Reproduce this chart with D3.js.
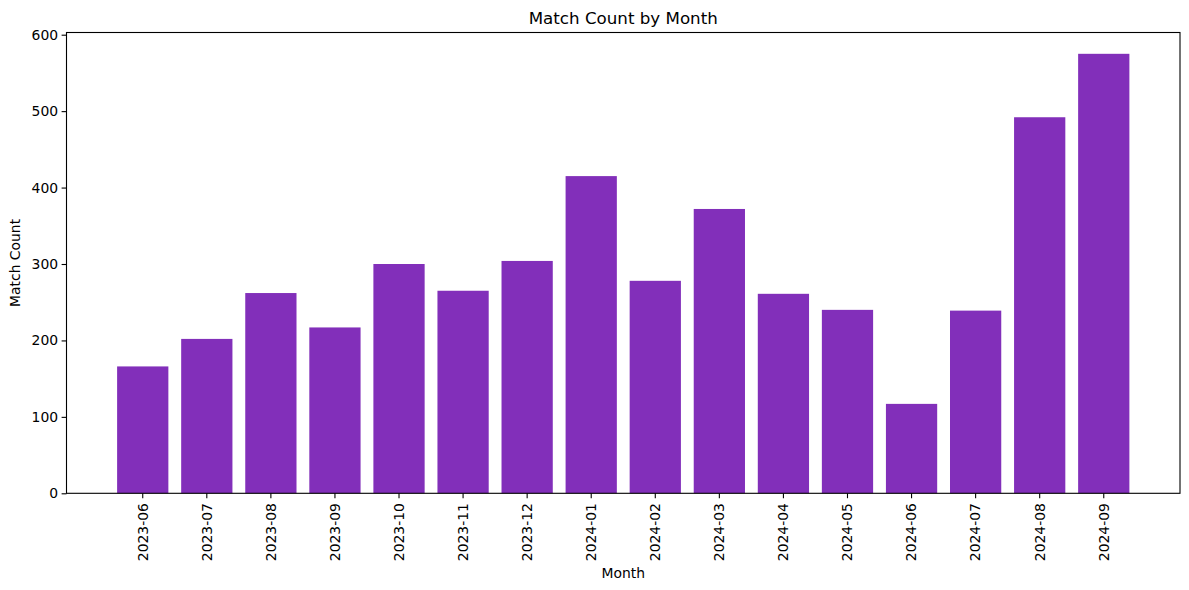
<!DOCTYPE html>
<html>
<head>
<meta charset="utf-8">
<script src="https://cdn.jsdelivr.net/npm/d3@7"></script>
<style>
  html, body { margin: 0; padding: 0; background: #fff; }
  text { font-family: "DejaVu Sans", sans-serif; fill: #000; }
</style>
</head>
<body>
<svg id="chart" width="1189" height="590"></svg>
<script>
const months = ["2023-06","2023-07","2023-08","2023-09","2023-10","2023-11","2023-12","2024-01","2024-02","2024-03","2024-04","2024-05","2024-06","2024-07","2024-08","2024-09"];
const matchCounts = [166, 202, 262, 217, 300, 265, 304, 415, 278, 372, 261, 240, 117, 239, 492, 575];
const yTicks = [0, 100, 200, 300, 400, 500, 600];

(function () {
const svg = d3.select("#chart");
const W = 1189, H = 590;
const fs = 13.9;
const pTop = 32.5, pBottom = 493.3, pLeft = 66.5, pRight = 1180;

const x = d3.scaleBand()
  .domain(months)
  .range([pLeft, pRight])
  .paddingInner(0.2)
  .paddingOuter(0.79);

const y = d3.scaleLinear().domain([0, 600]).range([pBottom, 34.7]);

// bars
svg.append("g").selectAll("rect")
  .data(months)
  .join("rect")
  .attr("x", d => x(d))
  .attr("width", x.bandwidth())
  .attr("y", (d, i) => y(matchCounts[i]))
  .attr("height", (d, i) => y(0) - y(matchCounts[i]))
  .attr("fill", "#822fba");

// frame
svg.append("rect")
  .attr("x", pLeft).attr("y", pTop)
  .attr("width", pRight - pLeft).attr("height", pBottom - pTop)
  .attr("fill", "none").attr("stroke", "#000").attr("stroke-width", 1.1);

// y axis
const yAxis = d3.axisLeft(y).tickValues(yTicks).tickSize(4.9).tickPadding(3.5);
const gy = svg.append("g").attr("transform", `translate(${pLeft},0)`).call(yAxis);
gy.select(".domain").remove();
gy.selectAll(".tick line").attr("stroke", "#000").attr("stroke-width", 1.1);
gy.selectAll(".tick text").attr("font-size", fs).attr("font-family", "DejaVu Sans, sans-serif").attr("fill", "#000");

// x axis
const xAxis = d3.axisBottom(x).tickSize(4.9).tickPadding(3.5);
const gx = svg.append("g").attr("transform", `translate(0,${pBottom})`).call(xAxis);
gx.select(".domain").remove();
gx.selectAll(".tick line").attr("stroke", "#000").attr("stroke-width", 1.1);
gx.selectAll(".tick text")
  .attr("font-size", fs)
  .attr("font-family", "DejaVu Sans, sans-serif")
  .attr("fill", "#000")
  .attr("transform", "rotate(-90)")
  .attr("text-anchor", "end")
  .attr("x", -(4.9 + 4.9))
  .attr("y", 0)
  .attr("dy", "0.35em");

// title
svg.append("text")
  .attr("x", (pLeft + pRight) / 2).attr("y", 24)
  .attr("text-anchor", "middle")
  .attr("font-size", 16.7)
  .text("Match Count by Month");

// x label
svg.append("text")
  .attr("x", (pLeft + pRight) / 2).attr("y", 578)
  .attr("text-anchor", "middle")
  .attr("font-size", fs)
  .text("Month");

// y label
svg.append("text")
  .attr("transform", `translate(20,${(pTop + pBottom) / 2}) rotate(-90)`)
  .attr("text-anchor", "middle")
  .attr("font-size", fs)
  .text("Match Count");
})();
</script>
</body>
</html>
